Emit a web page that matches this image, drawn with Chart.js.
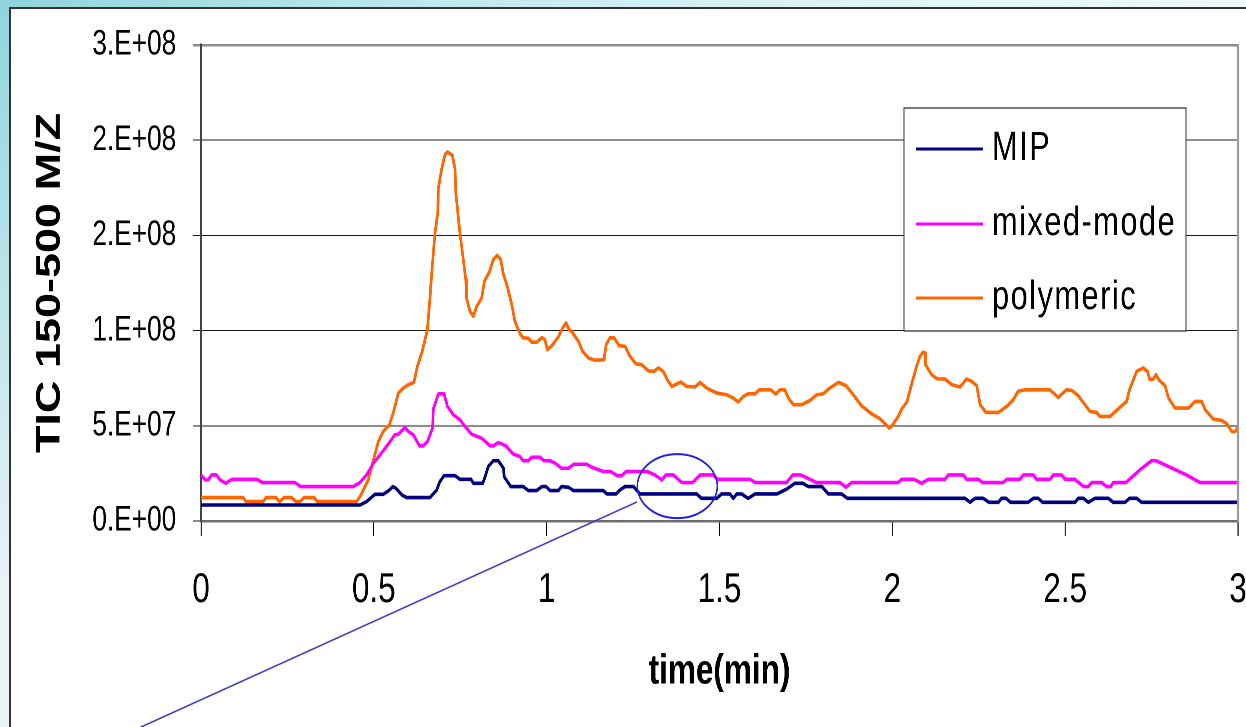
<!DOCTYPE html>
<html><head><meta charset="utf-8">
<script src="https://cdn.jsdelivr.net/npm/chart.js@4.4.1/dist/chart.umd.min.js"></script>
<style>
html,body{margin:0;padding:0;width:1246px;height:727px;overflow:hidden;}
body{background:
  linear-gradient(180deg, rgba(255,255,255,0) 0%, rgba(240,246,248,0.92) 80%),
  linear-gradient(90deg, #8fd4dc 0%, #bfe9ee 35%, #e0f5f7 70%, #eef9fa 100%);}
#frame{position:absolute;left:9px;top:7px;width:1400px;height:900px;background:#fff;border-left:2px solid #333;border-top:2px solid #333;}
#wrap{position:absolute;left:0;top:0;height:727px;transform-origin:0 0;}
</style></head><body>
<div id="frame"></div>
<div id="wrap"><canvas id="c"></canvas></div>
<script>
// ---------------- data (TIC values in millions of counts) ----------------
const seriesLabels = ['MIP', 'mixed-mode', 'polymeric'];
const yTickLabels = ['0.E+00', '5.E+07', '1.E+08', '2.E+08', '2.E+08', '3.E+08'];
const xTickLabels = ['0', '0.5', '1', '1.5', '2', '2.5', '3'];

const mipTime = [0,0.460,0.479,0.503,0.527,0.542,0.555,0.564,0.581,0.595,0.662,0.682,0.691,0.703,0.735,0.749,0.781,0.788,0.815,0.822,0.831,0.846,0.860,0.875,0.877,0.896,0.932,0.947,0.971,0.986,0.998,1.010,1.034,1.043,1.063,1.077,1.164,1.174,1.201,1.212,1.227,1.251,1.270,1.434,1.448,1.492,1.506,1.530,1.540,1.550,1.564,1.583,1.603,1.666,1.694,1.718,1.741,1.757,1.796,1.815,1.853,1.870,2.210,2.225,2.239,2.263,2.280,2.307,2.316,2.329,2.342,2.393,2.408,2.422,2.435,2.528,2.538,2.553,2.567,2.586,2.625,2.639,2.673,2.686,2.707,2.721,3.0];
const mipTIC = [8.4,8.4,10.2,14.0,14.0,15.8,18.1,17.2,13.7,12.3,12.3,16.3,20.7,23.8,23.8,21.9,21.9,19.8,19.8,23.3,28.6,31.7,31.7,27.7,23.3,18.1,18.1,16.0,16.0,18.1,18.1,16.0,16.0,18.1,17.7,16.0,16.0,14.2,14.2,16.3,18.1,18.1,14.2,14.2,11.9,11.9,14.2,14.2,11.9,14.2,14.2,11.9,14.2,14.2,16.7,19.8,19.8,18.1,18.1,14.2,14.2,11.9,11.9,9.8,11.9,11.9,9.8,9.8,11.9,11.9,9.8,9.8,11.9,11.9,9.8,9.8,11.9,11.9,9.8,11.9,11.9,9.8,9.8,11.9,11.9,9.8,9.8];

const mixedTime = [0,0.012,0.021,0.031,0.045,0.055,0.072,0.089,0.161,0.178,0.272,0.288,0.441,0.460,0.479,0.499,0.523,0.545,0.561,0.571,0.590,0.600,0.614,0.632,0.643,0.655,0.670,0.672,0.687,0.703,0.713,0.730,0.749,0.764,0.783,0.812,0.836,0.846,0.860,0.882,0.902,0.923,0.932,0.947,0.957,0.981,0.992,1.010,1.024,1.043,1.063,1.079,1.116,1.130,1.164,1.185,1.204,1.217,1.230,1.291,1.313,1.333,1.345,1.366,1.391,1.422,1.444,1.482,1.494,1.588,1.603,1.694,1.712,1.735,1.781,1.849,1.866,1.882,2.017,2.027,2.063,2.085,2.104,2.152,2.162,2.205,2.215,2.249,2.261,2.321,2.331,2.369,2.379,2.408,2.417,2.456,2.466,2.490,2.500,2.528,2.553,2.567,2.577,2.606,2.620,2.632,2.639,2.676,2.716,2.750,2.763,2.851,2.890,3.0];
const mixedTIC = [24.2,21.6,21.6,24.2,24.2,21.6,19.8,21.9,21.9,20.2,20.2,18.1,18.1,20.2,24.2,30.4,35.9,41.2,45.3,45.6,49.1,47.0,45.3,39.5,39.5,41.7,48.8,58.8,66.8,66.8,60.2,55.8,53.2,49.6,45.6,43.5,39.5,39.5,41.2,39.5,35.3,33.8,31.7,31.7,33.5,33.5,31.7,31.7,30.4,27.7,27.7,29.8,29.8,28.3,26.0,26.0,23.8,23.8,26.0,26.0,24.2,21.6,24.2,24.2,20.2,20.2,24.2,24.2,21.9,21.9,20.2,20.2,24.2,24.2,20.2,20.2,17.7,20.2,20.2,21.9,21.9,19.8,21.9,21.9,24.2,24.2,21.9,21.9,20.2,20.2,21.9,21.9,24.2,24.2,21.9,21.9,24.2,24.2,21.9,21.9,18.1,18.1,20.2,20.2,18.1,18.1,20.2,20.2,26.8,31.7,31.7,24.2,20.2,20.2];

const polyTime = [0,0.122,0.130,0.180,0.188,0.217,0.227,0.240,0.262,0.275,0.286,0.298,0.327,0.337,0.450,0.460,0.484,0.499,0.513,0.527,0.545,0.556,0.571,0.585,0.600,0.616,0.626,0.640,0.655,0.662,0.669,0.677,0.685,0.687,0.696,0.706,0.713,0.727,0.735,0.737,0.749,0.766,0.768,0.778,0.788,0.797,0.812,0.820,0.834,0.846,0.857,0.867,0.875,0.886,0.899,0.908,0.923,0.932,0.947,0.957,0.971,0.986,0.995,1.002,1.015,1.034,1.046,1.056,1.065,1.072,1.092,1.104,1.121,1.140,1.166,1.172,1.183,1.195,1.210,1.227,1.241,1.258,1.275,1.294,1.311,1.323,1.337,1.349,1.362,1.388,1.405,1.429,1.444,1.463,1.492,1.521,1.540,1.554,1.569,1.583,1.603,1.615,1.648,1.663,1.675,1.689,1.699,1.714,1.738,1.762,1.781,1.800,1.815,1.844,1.866,1.887,1.911,1.940,1.962,1.979,1.991,2.001,2.017,2.027,2.042,2.056,2.070,2.080,2.088,2.094,2.096,2.114,2.130,2.152,2.172,2.196,2.215,2.230,2.244,2.254,2.271,2.307,2.331,2.350,2.364,2.384,2.456,2.480,2.504,2.519,2.538,2.572,2.591,2.601,2.630,2.659,2.678,2.686,2.707,2.726,2.738,2.745,2.755,2.763,2.772,2.789,2.799,2.818,2.857,2.876,2.895,2.905,2.929,2.953,2.968,2.982,2.992,3.0];
const polyTIC = [12.3,12.3,10.2,10.2,12.3,12.3,10.2,12.3,12.3,10.2,10.2,12.3,12.3,10.2,10.2,12.8,21.6,32.1,41.7,47.0,50.5,56.7,67.2,69.8,71.6,72.8,81.2,89.1,100.5,116.3,133.8,151.4,161.9,175.1,184.7,192.6,193.8,192.1,184.7,172.5,151.4,126.8,117.2,110.2,107.5,112.5,117.2,126.0,130.7,137.4,139.5,137.4,129.5,123.3,113.7,104.9,98.3,96.2,96.0,93.9,93.9,96.3,95.3,90.0,92.1,96.7,101.4,104.0,100.5,99.6,94.4,89.1,85.6,84.4,84.7,92.6,96.2,96.2,92.1,91.7,86.5,82.6,82.1,78.9,78.6,80.4,78.6,74.2,70.7,73.0,70.7,70.4,72.8,69.8,67.2,66.3,64.6,62.5,65.4,66.8,66.8,68.9,68.9,66.7,68.9,68.9,64.6,61.1,61.1,63.3,66.3,66.8,69.3,72.8,71.1,66.3,60.5,56.3,54.0,51.1,48.8,50.5,54.9,58.8,62.5,72.0,81.2,86.5,88.6,88.3,82.1,76.8,74.7,74.6,71.6,70.4,74.6,73.3,71.1,61.1,57.0,57.0,60.2,63.7,68.1,68.9,68.9,64.9,68.9,68.6,65.8,57.5,57.0,54.9,54.9,59.8,62.8,68.9,78.6,80.4,78.6,74.2,74.6,76.8,73.9,71.1,64.6,59.3,59.3,62.8,62.8,58.4,53.5,52.8,51.1,47.0,47.0,49.3];

// callout annotation anchors in data units [time, TIC]
const calloutCenter = [1.378, 1.83e7];
const calloutLineFrom = [1.261, 1.0e7];
const calloutLineTo = [-0.176, -1.084e8];

// ---------------- layout / styling ----------------
const S = 0.75;                    // horizontal compression of the rendered picture
const W = 1246 / S, H = 727;
const wrap = document.getElementById('wrap');
wrap.style.width = W + 'px';
wrap.style.transform = 'scaleX(' + S + ')';
const FONT = "'Liberation Sans', Arial, Helvetica, sans-serif";
Chart.defaults.font.family = FONT;
Chart.defaults.color = '#000';

const toPts = (t, v) => t.map((x, i) => ({ x: x, y: v[i] * 1e6 }));
const colors = ['#000080', '#ff00ff', '#ff6600'];

const plotBorder = {
  id: 'plotBorder',
  afterDatasetsDraw(chart) {
    const { ctx, chartArea: a } = chart;
    ctx.save();
    ctx.strokeStyle = '#9a9a9a';
    ctx.lineWidth = 2.5 / S;
    ctx.beginPath();
    ctx.moveTo(a.right, a.top - 1);
    ctx.lineTo(a.right, a.bottom);
    ctx.stroke();
    ctx.restore();
  }
};

const boxLegend = {
  id: 'boxLegend',
  afterDraw(chart) {
    const { ctx } = chart;
    const x1 = 904 / S, x2 = 1186 / S, y1 = 108, y2 = 331;
    ctx.save();
    ctx.fillStyle = '#fff';
    ctx.fillRect(x1, y1, x2 - x1, y2 - y1);
    ctx.strokeStyle = '#333';
    ctx.lineWidth = 1.3;
    ctx.strokeRect(x1, y1, x2 - x1, y2 - y1);
    const rows = [149, 224, 298];
    ctx.font = '41px ' + FONT;
    ctx.textBaseline = 'alphabetic';
    ctx.textAlign = 'left';
    try { ctx.letterSpacing = '2px'; } catch (e) {}
    chart.data.datasets.forEach((ds, i) => {
      const y = rows[i];
      ctx.strokeStyle = ds.borderColor;
      ctx.lineWidth = 3;
      ctx.beginPath();
      ctx.moveTo(916 / S, y);
      ctx.lineTo(983 / S, y);
      ctx.stroke();
      ctx.fillStyle = '#000';
      ctx.fillText(ds.label, 992 / S, y + 11);
    });
    ctx.restore();
  }
};

const callout = {
  id: 'callout',
  afterDraw(chart) {
    const { ctx, scales: { x, y } } = chart;
    ctx.save();
    const cx = x.getPixelForValue(calloutCenter[0]);
    const cy = y.getPixelForValue(calloutCenter[1]);
    ctx.strokeStyle = '#1f1fe8';
    ctx.lineWidth = 2;
    ctx.beginPath();
    ctx.ellipse(cx, cy, 40 / S, 32, 0, 0, Math.PI * 2);
    ctx.stroke();
    ctx.strokeStyle = '#3a3ad2';
    ctx.lineWidth = 1.6;
    ctx.beginPath();
    ctx.moveTo(x.getPixelForValue(calloutLineFrom[0]), y.getPixelForValue(calloutLineFrom[1]));
    ctx.lineTo(x.getPixelForValue(calloutLineTo[0]), y.getPixelForValue(calloutLineTo[1]));
    ctx.stroke();
    ctx.restore();
  }
};

new Chart(document.getElementById('c'), {
  type: 'line',
  data: {
    datasets: [
      { label: seriesLabels[0], data: toPts(mipTime, mipTIC), borderColor: colors[0] },
      { label: seriesLabels[1], data: toPts(mixedTime, mixedTIC), borderColor: colors[1] },
      { label: seriesLabels[2], data: toPts(polyTime, polyTIC), borderColor: colors[2] }
    ].map(d => Object.assign(d, { borderWidth: 3.6, pointRadius: 0, tension: 0, fill: false, borderJoinStyle: 'round' }))
  },
  options: {
    responsive: true,
    maintainAspectRatio: false,
    devicePixelRatio: 2,
    animation: false,
    layout: { padding: { top: 45, right: (1246 - 1238) / S, left: 0, bottom: 0 } },
    plugins: { legend: { display: false }, tooltip: { enabled: false } },
    scales: {
      x: {
        type: 'linear', min: 0, max: 3,
        ticks: { stepSize: 0.5, autoSkip: false, maxRotation: 0, padding: 29, color: '#000',
                 font: { size: 42 }, callback: (v, i) => xTickLabels[i] },
        grid: { drawOnChartArea: false, drawTicks: true, tickLength: 15, color: '#000', lineWidth: 1.4 },
        border: { display: true, color: '#6e6e6e', width: 2.5 },
        title: { display: true, text: 'time(min)', color: '#000',
                 font: { size: 42, weight: 'bold' }, padding: { top: 0, bottom: 30 } },
        afterFit(s) { s.height = 727 - 521; s.paddingLeft = 0; s.paddingRight = 0; }
      },
      y: {
        min: 0, max: 2.5e8,
        ticks: { stepSize: 5e7, padding: 22, color: '#000', font: { size: 35 },
                 callback: (v, i) => yTickLabels[i] },
        grid: { tickLength: 11,
                color: c => (c.index === 5 ? '#8c8c8c' : '#1a1a1a'),
                lineWidth: c => (c.index === 5 ? 2.5 : 1) },
        border: { display: true, color: '#444', width: 2.7 },
        title: { display: true, text: 'TIC 150-500 M/Z', color: '#000',
                 font: { size: 45, weight: 'bold' }, padding: { top: 40, bottom: 0 } },
        afterFit(s) { s.width = 201 / S; s.paddingTop = 0; s.paddingBottom = 0; }
      }
    }
  },
  plugins: [plotBorder, callout, boxLegend]
});
</script>
</body></html>
